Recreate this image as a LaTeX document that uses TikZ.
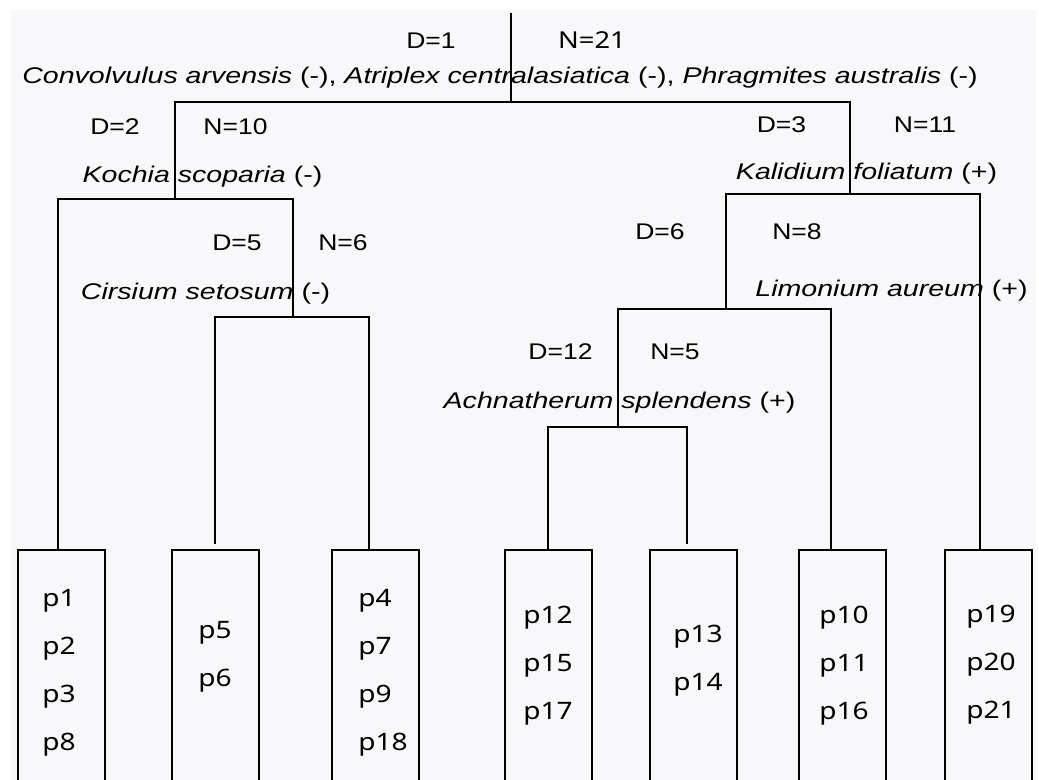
\documentclass[tikz,border=0pt]{standalone}
\usepackage{fontspec}
\setmainfont{Liberation Sans}
\newfontfamily\statfont{Liberation Sans}[FakeStretch=1.17]
\newfontfamily\taxonfont{Liberation Sans}[FakeStretch=1.26]
\newfontfamily\plotfont{Noto Sans}[FakeStretch=1.17]
\usetikzlibrary{positioning}
\definecolor{paper}{HTML}{F8F8FA}
\tikzset{
  branch/.style={line width=1.5pt},
  stat/.style={inner sep=0pt,font=\statfont\fontsize{17}{20}\selectfont},
  taxon/.style={inner sep=0pt,font=\taxonfont\fontsize{17}{20}\selectfont},
  plotbox/.style={draw,line width=1.5pt,anchor=north west,minimum width=65.25pt,minimum height=203pt,inner sep=0pt},
  plots/.style={inner sep=0pt,anchor=west,align=left,font=\plotfont\fontsize{18}{36}\selectfont}
}
\begin{document}
\begin{tikzpicture}[x=0.75pt,y=-0.75pt]
\useasboundingbox (0,0) rectangle (1039,780);
\clip (0,0) rectangle (1039,780);
\fill[white] (0,0) rectangle (1039,780);
\fill[paper] (11,10) rectangle (1036,780);
% splits
\coordinate (root) at (511,13);
\coordinate (k1) at (511,102);
\coordinate (k2) at (175,199);
\coordinate (k3) at (850,194);
\coordinate (k5) at (293,317);
\coordinate (k6) at (726,309);
\coordinate (k12) at (618,427);
% plot groups
\node[plotbox] (b1) at (17,549) {};
\node[plotbox] (b2) at (171,549) {};
\node[plotbox] (b3) at (331,549) {};
\node[plotbox] (b4) at (504,549) {};
\node[plotbox] (b5) at (649,549) {};
\node[plotbox] (b6) at (798,549) {};
\node[plotbox] (b7) at (944,549) {};
\coordinate (f1) at (58,549);
\coordinate (f2) at (215,549);
\coordinate (f3) at (369,549);
\coordinate (f4) at (548,549);
\coordinate (f5) at (687,549);
\coordinate (f6) at (831,549);
\coordinate (f7) at (980,549);
\node[plots] (p1) at (42,673) {p1\\p2\\p3\\p8};
\node[plots] (p2) at (198,657) {p5\\p6};
\node[plots] (p3) at (358,673) {p4\\p7\\p9\\p18};
\node[plots] (p4) at (523,666) {p12\\p15\\p17};
\node[plots] (p5) at (673,661) {p13\\p14};
\node[plots] (p6) at (819,666) {p10\\p11\\p16};
\node[plots] (p7) at (966,665) {p19\\p20\\p21};
% tree
\draw[branch] (root) -- (k1);
\draw[branch] (k2) |- (k1) -| (k3);
\draw[branch] (f1) |- (k2) -| (k5);
\draw[branch,shorten <=3.75pt] (f2) |- (k5) -| (f3);
\draw[branch] (k6) |- (k3) -| (f7);
\draw[branch] (k12) |- (k6) -| (f6);
\draw[branch,shorten >=3.75pt] (f4) |- (k12) -| (f5);
% labels
\node[stat] (d1) at (431,41) {D=1};
\node[stat,font=\plotfont\fontsize{17.5}{20}\selectfont] (n1) at (592,40) {N=21};
\node[taxon] (t1) at (500,78) {\textit{Convolvulus arvensis} (-), \textit{Atriplex centralasiatica} (-), \textit{Phragmites australis} (-)};
\node[stat] (d2) at (115,127) {D=2};
\node[stat] (n2) at (235.5,127) {N=10};
\node[taxon] (t2) at (202.5,177) {\textit{Kochia scoparia} (-)};
\node[stat] (d3) at (781.5,125) {D=3};
\node[stat] (n3) at (925,125) {N=11};
\node[taxon] (t3) at (866.5,174) {\textit{Kalidium foliatum} (+)};
\node[stat] (d5) at (237,243) {D=5};
\node[stat] (n5) at (343,243) {N=6};
\node[taxon] (t5) at (205.5,294) {\textit{Cirsium setosum} (-)};
\node[stat] (d6) at (660,232) {D=6};
\node[stat] (n6) at (797,232) {N=8};
\node[taxon] (t6) at (891.5,291) {\textit{Limonium aureum} (+)};
\node[stat] (d12) at (560.5,352) {D=12};
\node[stat] (n12) at (675,352) {N=5};
\node[taxon] (t12) at (619.5,403) {\textit{Achnatherum splendens} (+)};
\end{tikzpicture}
\end{document}
